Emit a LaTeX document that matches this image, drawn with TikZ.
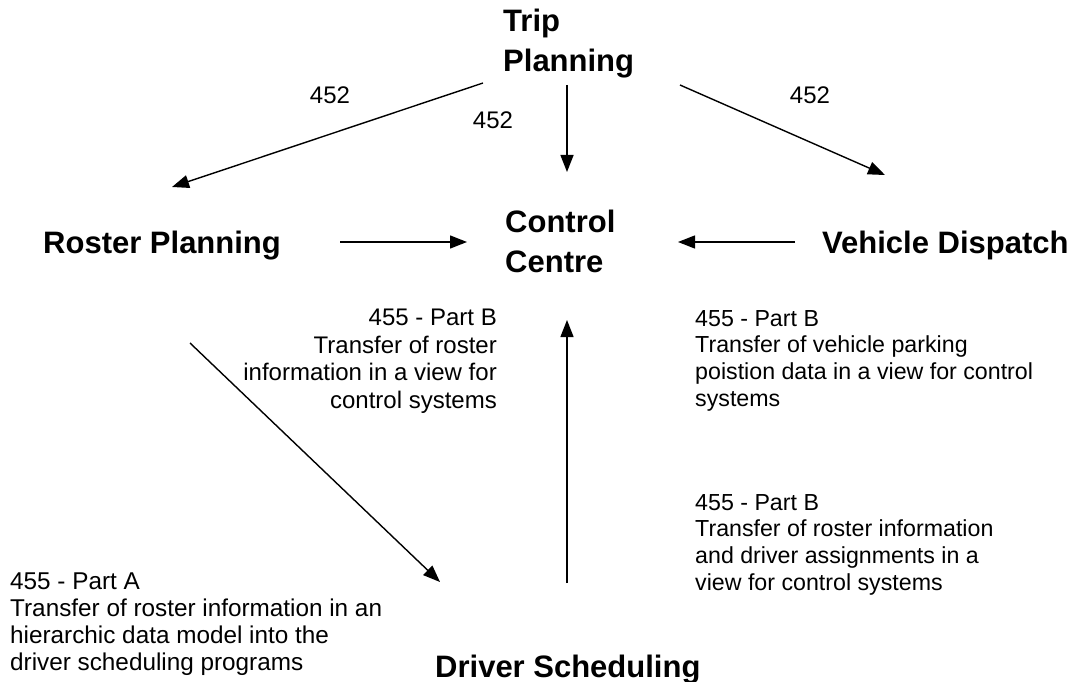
\documentclass[tikz,border=0pt]{standalone}
\usepackage{fontspec}
\setmainfont{Liberation Sans}
\usetikzlibrary{arrows.meta}
\tikzset{
  head/.style={inner sep=0pt, font=\fontsize{31}{40}\selectfont\bfseries, align=left},
  lbl/.style={inner sep=0pt, font=\fontsize{24}{27.6}\selectfont},
  lblr/.style={inner sep=0pt, font=\fontsize{23.2}{26.7}\selectfont},
  lbla/.style={inner sep=0pt, font=\fontsize{24.3}{27}\selectfont},
  conn/.style={line width=1.4pt, -{Triangle[length=17pt,width=13pt]}},
}
\begin{document}
\begin{tikzpicture}[x=1pt,y=-1pt]
\useasboundingbox (0,0) rectangle (1079,682);
% main nodes
\node[head, anchor=north west] (tp) at (503,9) {Trip\\Planning};
\node[head, anchor=north west] (cc) at (505,210) {Control\\Centre};
\node[head, anchor=base west] (rp) at (43,253) {Roster Planning};
\node[head, anchor=base west] (vd) at (822,253) {Vehicle Dispatch};
\node[head, anchor=base west] (ds) at (435,677) {Driver Scheduling};
% labels
\node[lbl] (l1) at (330,95) {452};
\node[lbl] (l2) at (493,120) {452};
\node[lbl] (l3) at (810,95) {452};
\node[lbl, align=right, anchor=north east] (b1) at (497,309) {455 - Part B\\Transfer of roster\\information in a view for\\control systems};
\node[lblr, align=left, anchor=north west] (b2) at (695,310) {455 - Part B\\Transfer of vehicle parking\\poistion data in a view for control\\systems};
\node[lblr, align=left, anchor=north west] (b3) at (695,494) {455 - Part B\\Transfer of roster information\\and driver assignments in a\\view for control systems};
\node[lbla, align=left, anchor=north west] (a1) at (10,573) {455 - Part A\\Transfer of roster information in an\\hierarchic data model into the\\driver scheduling programs};
% connector end points
\coordinate (tpL) at (483,83);
\coordinate (rpT) at (172,187);
\coordinate (tpM) at (567,85);
\coordinate (ccT) at (567,172);
\coordinate (tpR) at (680,85);
\coordinate (vdT) at (885,175);
\coordinate (rpR) at (340,242);
\coordinate (ccL) at (467,242);
\coordinate (vdL) at (795,242);
\coordinate (ccR) at (678,242);
\coordinate (rpB) at (190,343);
\coordinate (dsT) at (440,582);
\coordinate (dsU) at (567,583);
\coordinate (ccB) at (567,320);
% connectors
\draw[conn] (tpL) -- (rpT);
\draw[conn] (tpM) -- (ccT);
\draw[conn] (tpR) -- (vdT);
\draw[conn] (rpR) -- (ccL);
\draw[conn] (vdL) -- (ccR);
\draw[conn] (rpB) -- (dsT);
\draw[conn] (dsU) -- (ccB);
\end{tikzpicture}
\end{document}
